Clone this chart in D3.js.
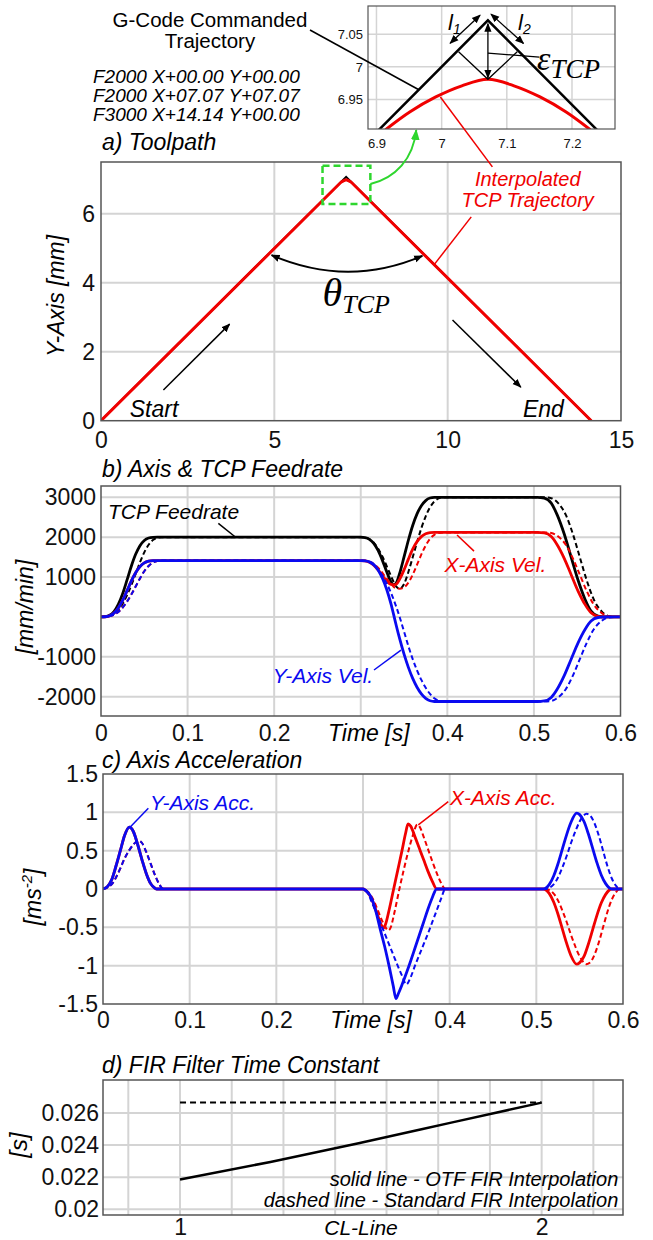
<!DOCTYPE html>
<html>
<head>
<meta charset="utf-8">
<script src="https://cdn.jsdelivr.net/npm/d3@7"></script>
<style>
  body { margin: 0; background: #fff; }
</style>
</head>
<body>
<svg id="fig" width="653" height="1240"></svg>
<script>
// ---------- data ----------
// a) toolpath [mm]
const gcodePath = [[0, 0], [7.071, 7.071], [14.142, 0]];
const gcodeLines = ["F2000 X+00.00 Y+00.00", "F2000 X+07.07 Y+07.07", "F3000 X+14.14 Y+00.00"];
// interpolated TCP near the corner
const cornerX = [6.914, 6.951, 6.991, 7.031, 7.071, 7.111, 7.151, 7.191, 7.228];
const cornerY = [6.904, 6.931, 6.954, 6.971, 6.981, 6.971, 6.954, 6.931, 6.904];

// b) feedrates [mm/min] vs time [s]; solid = OTF FIR, dashed = standard FIR
const tcpSolid = [[0,0],[0.005,7],[0.01,41],[0.015,136],[0.02,315],[0.025,585],[0.03,923],[0.035,1273],[0.04,1571],[0.045,1788],[0.05,1919],[0.055,1980],[0.06,1997],[0.065,2000],
  [0.3,2000],[0.305,1989],[0.31,1947],[0.315,1848],[0.32,1668],[0.325,1419],[0.33,1133],[0.335,876],[0.338,807],[0.341,850],[0.345,1099],[0.35,1505],[0.355,1924],[0.36,2295],[0.365,2585],[0.37,2791],[0.375,2919],[0.38,2983],[0.385,3000],
  [0.504,3000],[0.512,2980],[0.52,2854],[0.527,2554],[0.535,2080],[0.543,1499],[0.551,919],[0.559,445],[0.566,146],[0.574,20],[0.582,0],[0.6,0]];
const tcpDashed = [[0,0],[0.005,4],[0.01,28],[0.015,78],[0.02,175],[0.025,332],[0.03,543],[0.035,796],[0.04,1079],[0.045,1368],[0.05,1621],[0.055,1810],[0.06,1929],[0.065,1986],[0.07,2000],
  [0.3,2000],[0.305,1991],[0.31,1952],[0.315,1863],[0.32,1716],[0.325,1515],[0.33,1276],[0.335,1024],[0.34,791],[0.345,708],[0.35,826],[0.355,1128],[0.36,1497],[0.365,1874],[0.37,2227],[0.375,2523],[0.38,2751],[0.385,2898],[0.39,2974],[0.395,3000],
  [0.512,3000],[0.52,2980],[0.528,2854],[0.537,2554],[0.545,2080],[0.553,1499],[0.561,919],[0.569,445],[0.578,146],[0.586,20],[0.594,0],[0.6,0]];
const xVelSolid = [[0,0],[0.005,5],[0.01,29],[0.015,96],[0.02,223],[0.025,414],[0.03,653],[0.035,900],[0.04,1111],[0.045,1264],[0.05,1357],[0.055,1400],[0.06,1412],[0.065,1414],
  [0.3,1414],[0.305,1405],[0.31,1372],[0.315,1300],[0.32,1180],[0.325,1035],[0.33,900],[0.335,815],[0.338,805],[0.341,822],[0.345,950],[0.35,1180],[0.355,1450],[0.36,1700],[0.365,1890],[0.37,2015],[0.375,2085],[0.38,2115],[0.385,2121],
  [0.504,2121],[0.512,2107],[0.52,2018],[0.527,1806],[0.535,1471],[0.543,1060],[0.551,650],[0.559,315],[0.566,103],[0.574,14],[0.582,0],[0.6,0]];
const xVelDashed = [[0,0],[0.005,3],[0.01,20],[0.015,55],[0.02,124],[0.025,235],[0.03,384],[0.035,563],[0.04,763],[0.045,967],[0.05,1146],[0.055,1280],[0.06,1364],[0.065,1404],[0.07,1414],
  [0.3,1414],[0.305,1408],[0.31,1385],[0.315,1330],[0.32,1235],[0.325,1105],[0.33,960],[0.335,830],[0.34,725],[0.345,708],[0.35,740],[0.355,860],[0.36,1060],[0.365,1310],[0.37,1570],[0.375,1790],[0.38,1960],[0.385,2060],[0.39,2105],[0.395,2121],
  [0.512,2121],[0.52,2107],[0.528,2018],[0.537,1806],[0.545,1471],[0.553,1060],[0.561,650],[0.569,315],[0.578,103],[0.586,14],[0.594,0],[0.6,0]];
const yVelSolid = [[0,0],[0.005,5],[0.01,29],[0.015,96],[0.02,223],[0.025,414],[0.03,653],[0.035,900],[0.04,1111],[0.045,1264],[0.05,1357],[0.055,1400],[0.06,1412],[0.065,1414],
  [0.3,1414],[0.305,1408],[0.31,1382],[0.315,1313],[0.32,1179],[0.325,971],[0.33,688],[0.335,320],[0.338,57],[0.341,-215],[0.345,-553],[0.35,-934],[0.355,-1265],[0.36,-1542],[0.365,-1764],[0.37,-1931],[0.375,-2043],[0.38,-2103],[0.385,-2121],
  [0.504,-2121],[0.512,-2107],[0.52,-2018],[0.527,-1806],[0.535,-1471],[0.543,-1060],[0.551,-650],[0.559,-315],[0.566,-103],[0.574,-14],[0.582,0],[0.6,0]];
const yVelDashed = [[0,0],[0.005,3],[0.01,20],[0.015,55],[0.02,124],[0.025,235],[0.03,384],[0.035,563],[0.04,763],[0.045,967],[0.05,1146],[0.055,1280],[0.06,1364],[0.065,1404],[0.07,1414],
  [0.3,1414],[0.305,1408],[0.31,1376],[0.315,1305],[0.32,1192],[0.325,1037],[0.33,840],[0.335,599],[0.34,317],[0.345,-7],[0.35,-367],[0.355,-730],[0.36,-1057],[0.365,-1340],[0.37,-1580],[0.375,-1778],[0.38,-1931],[0.385,-2039],[0.39,-2101],[0.395,-2121],
  [0.512,-2121],[0.52,-2107],[0.528,-2018],[0.537,-1806],[0.545,-1471],[0.553,-1060],[0.561,-650],[0.569,-315],[0.578,-103],[0.586,-14],[0.594,0],[0.6,0]];

// c) axis acceleration [m/s^2] vs time [s]
const yAccSolid = [[0,0],[0.005,0.03],[0.01,0.12],[0.015,0.3],[0.02,0.5],[0.025,0.7],[0.0304,0.806],[0.035,0.75],[0.04,0.58],[0.045,0.38],[0.05,0.2],[0.055,0.07],[0.06,0.01],[0.062,0],
  [0.3,0],[0.305,-0.04],[0.31,-0.12],[0.315,-0.3],[0.32,-0.53],[0.325,-0.75],[0.33,-1.0],[0.335,-1.27],[0.338,-1.43],[0.341,-1.36],[0.345,-1.25],[0.35,-1.1],[0.355,-0.94],[0.36,-0.77],[0.365,-0.6],[0.37,-0.43],[0.375,-0.26],[0.38,-0.11],[0.385,0],
  [0.508,0],[0.515,0.06],[0.52,0.17],[0.525,0.33],[0.53,0.52],[0.535,0.71],[0.54,0.87],[0.5465,0.99],[0.55,0.97],[0.555,0.88],[0.56,0.72],[0.565,0.53],[0.57,0.34],[0.575,0.18],[0.58,0.07],[0.587,0],[0.6,0]];
const yAccDashed = [[0,0],[0.005,0.02],[0.01,0.06],[0.015,0.15],[0.02,0.27],[0.025,0.4],[0.03,0.5],[0.035,0.58],[0.0408,0.63],[0.045,0.6],[0.05,0.48],[0.055,0.33],[0.06,0.18],[0.065,0.06],[0.0696,0],
  [0.3,0],[0.305,-0.04],[0.31,-0.17],[0.315,-0.3],[0.32,-0.44],[0.325,-0.58],[0.33,-0.72],[0.335,-0.86],[0.34,-1.0],[0.345,-1.13],[0.35,-1.245],[0.355,-1.15],[0.36,-1.0],[0.365,-0.86],[0.37,-0.72],[0.375,-0.58],[0.38,-0.43],[0.385,-0.28],[0.39,-0.13],[0.395,0],
  [0.51,0],[0.52,0.06],[0.525,0.15],[0.53,0.28],[0.535,0.43],[0.54,0.6],[0.545,0.75],[0.55,0.88],[0.558,0.98],[0.562,0.96],[0.567,0.86],[0.572,0.7],[0.577,0.5],[0.582,0.3],[0.587,0.14],[0.592,0.04],[0.596,0],[0.6,0]];
const xAccSolid = [[0,0],[0.005,0.03],[0.01,0.12],[0.015,0.3],[0.02,0.5],[0.025,0.7],[0.0304,0.806],[0.035,0.75],[0.04,0.58],[0.045,0.38],[0.05,0.2],[0.055,0.07],[0.06,0.01],[0.062,0],
  [0.3,0],[0.305,-0.04],[0.31,-0.13],[0.315,-0.28],[0.32,-0.44],[0.3235,-0.51],[0.326,-0.46],[0.33,-0.28],[0.335,-0.02],[0.34,0.24],[0.345,0.5],[0.349,0.72],[0.352,0.85],[0.355,0.82],[0.36,0.68],[0.365,0.53],[0.37,0.38],[0.375,0.23],[0.38,0.1],[0.385,0],
  [0.508,0],[0.515,-0.06],[0.52,-0.17],[0.525,-0.33],[0.53,-0.52],[0.535,-0.71],[0.54,-0.87],[0.5465,-0.98],[0.55,-0.96],[0.555,-0.88],[0.56,-0.72],[0.565,-0.53],[0.57,-0.34],[0.575,-0.18],[0.58,-0.07],[0.587,0],[0.6,0]];
const xAccDashed = [[0,0],[0.005,0.02],[0.01,0.06],[0.015,0.15],[0.02,0.27],[0.025,0.4],[0.03,0.5],[0.035,0.58],[0.0408,0.63],[0.045,0.6],[0.05,0.48],[0.055,0.33],[0.06,0.18],[0.065,0.06],[0.0696,0],
  [0.3,0],[0.305,-0.03],[0.31,-0.1],[0.315,-0.22],[0.32,-0.36],[0.325,-0.48],[0.329,-0.54],[0.332,-0.5],[0.336,-0.32],[0.342,0],[0.347,0.25],[0.352,0.48],[0.357,0.68],[0.3627,0.84],[0.366,0.8],[0.37,0.68],[0.375,0.52],[0.38,0.36],[0.385,0.21],[0.39,0.08],[0.395,0],
  [0.51,0],[0.52,-0.06],[0.525,-0.15],[0.53,-0.28],[0.535,-0.43],[0.54,-0.6],[0.545,-0.75],[0.55,-0.88],[0.558,-0.98],[0.562,-0.96],[0.567,-0.86],[0.572,-0.7],[0.577,-0.5],[0.582,-0.3],[0.587,-0.14],[0.592,-0.04],[0.596,0],[0.6,0]];

// d) FIR filter time constant [s] vs CL-line
const firOtf = [[1, 0.02185], [1.25, 0.02295], [1.5, 0.02415], [1.75, 0.0254], [2, 0.02665]];
const firStd = [[1, 0.02665], [2, 0.02665]];

// ticks
const aXTicks = [0, 5, 10, 15], aYTicks = [0, 2, 4, 6];
const insetXTicks = [6.9, 7, 7.1, 7.2], insetYTicks = [6.95, 7, 7.05];
const timeTicks = [0, 0.1, 0.2, 0.4, 0.5, 0.6], timeGrid = [0.1, 0.2, 0.3, 0.4, 0.5];
const bYTicks = [-2000, -1000, 1000, 2000, 3000], bYGrid = [-2000, -1000, 0, 1000, 2000, 3000];
const cYTicks = [-1.5, -1, -0.5, 0, 0.5, 1, 1.5], cYGrid = [-1, -0.5, 0, 0.5, 1];
const dXTicks = [1, 2], dXGrid = [0.857, 1, 1.143, 1.286, 1.429, 1.571, 1.714, 1.857, 2, 2.143];
const dYTicks = [0.02, 0.022, 0.024, 0.026];

// ---------- drawing ----------
const FONT = '"Liberation Sans", Arial, Helvetica, sans-serif';
const SERIF = '"Liberation Serif", "DejaVu Serif", "Times New Roman", serif';
const RED = "#f00000", BLUE = "#0a0af0", GREEN = "#2ed62e";
const GRID = "#d4d4d4", FRAME = "#555";

const svg = d3.select("#fig").attr("font-family", FONT);
const defs = svg.append("defs");

function marker(id, color, size) {
    defs.append("marker").attr("id", id)
        .attr("viewBox", "0 0 10 10").attr("refX", 9).attr("refY", 5)
        .attr("markerWidth", size).attr("markerHeight", size)
        .attr("markerUnits", "userSpaceOnUse")
        .attr("orient", "auto-start-reverse")
        .append("path").attr("d", "M0,1 L10,5 L0,9 Z").attr("fill", color);
}
marker("arrK", "#000", 9);
marker("arrG", GREEN, 11);

// frame + grid + tick labels for one panel
function panel(name, x, y, o) {
    const g = svg.append("g");
    const [l, r] = x.range(), [b, t] = y.range();
    g.append("rect").attr("x", l).attr("y", t).attr("width", r - l).attr("height", b - t).attr("fill", "#fff");
    g.selectAll("line.gx").data(o.gridX).join("line").attr("class", "gx")
        .attr("x1", d => x(d)).attr("x2", d => x(d)).attr("y1", b).attr("y2", t)
        .attr("stroke", GRID).attr("stroke-width", o.gw || 2);
    g.selectAll("line.gy").data(o.gridY).join("line").attr("class", "gy")
        .attr("y1", d => y(d)).attr("y2", d => y(d)).attr("x1", l).attr("x2", r)
        .attr("stroke", GRID).attr("stroke-width", o.gw || 2);

    const fs = o.fs || 23;
    const xa = g.append("g").attr("transform", `translate(0,${b})`)
        .call(d3.axisBottom(x).tickValues(o.xTicks).tickSize(0)
            .tickPadding(o.xBase - 0.71 * fs).tickFormat(d => String(d)));
    xa.select(".domain").remove();
    xa.attr("font-size", fs).attr("font-family", FONT).attr("color", "#111");
    const ya = g.append("g").attr("transform", `translate(${l},0)`)
        .call(d3.axisLeft(y).tickValues(o.yTicks).tickSize(0)
            .tickPadding(o.yPad || 5).tickFormat(d => String(d)));
    ya.select(".domain").remove();
    ya.attr("font-size", fs).attr("font-family", FONT).attr("color", "#111");

    svg.append("clipPath").attr("id", "clip-" + name)
        .append("rect").attr("x", l).attr("y", t).attr("width", r - l).attr("height", b - t);
    const plot = svg.append("g").attr("clip-path", `url(#clip-${name})`);
    const frame = svg.append("rect").attr("x", l).attr("y", t).attr("width", r - l).attr("height", b - t)
        .attr("fill", "none").attr("stroke", FRAME).attr("stroke-width", o.fw || 1.5);
    return { g, plot, frame };
}

function label(txt, px, py, opt = {}) {
    return svg.append("text").attr("x", px).attr("y", py)
        .attr("font-size", opt.fs || 23)
        .attr("font-style", opt.upright ? "normal" : "italic")
        .attr("text-anchor", opt.anchor || "start")
        .attr("fill", opt.color || "#000")
        .text(txt);
}
function ylabel(px, cy, fs) {
    return svg.append("text").attr("transform", `translate(${px},${cy}) rotate(-90)`)
        .attr("font-size", fs).attr("font-style", "italic").attr("text-anchor", "middle");
}
function seg(p0, p1, color, w, arrow) {
    const ln = svg.append("line").attr("x1", p0[0]).attr("y1", p0[1]).attr("x2", p1[0]).attr("y2", p1[1])
        .attr("stroke", color).attr("stroke-width", w);
    if (arrow) ln.attr("marker-end", `url(#${arrow})`);
    return ln;
}

// ===== a) Toolpath =====
const ax = d3.scaleLinear().domain([0, 15]).range([101, 621]);
const ay = d3.scaleLinear().domain([0, 7.5]).range([420.7, 162]);
const pa = panel("a", ax, ay, { gridX: [5, 10], gridY: [2, 4, 6], xTicks: aXTicks, yTicks: aYTicks, xBase: 27, yPad: 6 });
const lineA = d3.line().x(d => ax(d[0])).y(d => ay(d[1]));
const tcpPath = [[0, 0]].concat(cornerX.map((v, i) => [v, cornerY[i]]), [[14.142, 0]]);
pa.plot.append("path").attr("d", lineA(gcodePath)).attr("fill", "none").attr("stroke", "#000").attr("stroke-width", 2);
pa.plot.append("path").attr("d", lineA(tcpPath)).attr("fill", "none").attr("stroke", RED).attr("stroke-width", 3);

// zoom box
svg.append("rect").attr("x", ax(6.39)).attr("y", ay(7.39))
    .attr("width", ax(7.77) - ax(6.39)).attr("height", ay(6.28) - ay(7.39))
    .attr("fill", "none").attr("stroke", GREEN).attr("stroke-width", 2.5).attr("stroke-dasharray", "7,4");

seg([ax(1.8), ay(0.89)], [ax(3.71), ay(2.8)], "#000", 1.5, "arrK");
seg([ax(10.14), ay(2.92)], [ax(12.11), ay(0.97)], "#000", 1.5, "arrK");
svg.append("path")
    .attr("d", `M${ax(4.92)},${ay(4.8)} Q${ax(7.11)},${ay(3.85)} ${ax(9.27)},${ay(4.78)}`)
    .attr("fill", "none").attr("stroke", "#000").attr("stroke-width", 2)
    .attr("marker-start", "url(#arrK)").attr("marker-end", "url(#arrK)");
const th = svg.append("text").attr("x", ax(6.39)).attr("y", ay(3.33)).attr("font-family", SERIF).attr("font-style", "italic");
th.append("tspan").attr("font-size", 40).text("θ");
th.append("tspan").attr("font-size", 26).attr("dy", 7).text("TCP");
label("Start", ax(0.83), ay(0.12));
label("End", ax(12.17), ay(0.12));
label("Interpolated", ax(12.31), 186, { color: RED, anchor: "middle", fs: 20 });
label("TCP Trajectory", ax(12.31), 207, { color: RED, anchor: "middle", fs: 20 });
seg([ax(10.68), ay(5.91)], [ax(9.6), ay(4.51)], RED, 1.5);

label("a) Toolpath", 102, 150);
ylabel(64, 296, 23).text("Y-Axis [mm]");

// inset
const ix = d3.scaleLinear().domain([6.887, 7.266]).range([368, 615]);
const iy = d3.scaleLinear().domain([6.905, 7.093]).range([129, 6]);
const pi = panel("inset", ix, iy, { gridX: insetXTicks, gridY: insetYTicks, xTicks: insetXTicks, yTicks: insetYTicks, xBase: 19, yPad: 5, fs: 13, gw: 1.5, fw: 1.2 });
const lineI = d3.line().x(d => ix(d[0])).y(d => iy(d[1]));
pi.plot.append("path").attr("d", lineI(gcodePath)).attr("fill", "none").attr("stroke", "#000").attr("stroke-width", 2.5);
pi.plot.append("path").attr("d", lineI.curve(d3.curveCatmullRom)(cornerX.map((v, i) => [v, cornerY[i]])))
    .attr("fill", "none").attr("stroke", RED).attr("stroke-width", 3);
// epsilon construction
svg.append("path").attr("d", `M${ix(7.026)},${iy(7.023)} L${ix(7.071)},${iy(6.981)} L${ix(7.116)},${iy(7.023)}`)
    .attr("fill", "none").attr("stroke", "#000").attr("stroke-width", 1.3);
seg([ix(7.071), iy(7.066)], [ix(7.071), iy(6.983)], "#000", 1.3, "arrK").attr("marker-start", "url(#arrK)");
seg([ix(7.013), iy(7.036)], [ix(7.059), iy(7.079)], "#000", 1.3, "arrK").attr("marker-start", "url(#arrK)");
seg([ix(7.0757), iy(7.0806)], [ix(7.1256), iy(7.0358)], "#000", 1.3, "arrK").attr("marker-start", "url(#arrK)");
seg([ix(7.071), iy(7.021)], [ix(7.15), iy(7.015)], "#000", 1.3);
const eps = svg.append("text").attr("x", 537).attr("y", 70).attr("font-family", SERIF).attr("font-style", "italic");
eps.append("tspan").attr("font-size", 34).text("ε");
eps.append("tspan").attr("font-size", 27).attr("dy", 8).text("TCP");
const l1 = label("l", 448, 30, { fs: 22 });
l1.append("tspan").attr("font-size", 14).attr("dy", 4).text("1");
const l2 = label("l", 518, 30, { fs: 22 });
l2.append("tspan").attr("font-size", 14).attr("dy", 4).text("2");

// G-code text + leaders
label("G-Code Commanded", 210, 27, { anchor: "middle", fs: 20.5, upright: true });
label("Trajectory", 210, 48, { anchor: "middle", fs: 20.5, upright: true });
seg([310, 30], [ix(6.965), iy(6.965)], "#000", 1.5);
gcodeLines.forEach((s, i) => label(s, 93, 83 + i * 19, { fs: 19 }));
seg([ix(6.998), iy(6.954)], [ax(11.29), ay(7.36)], RED, 1.5);
svg.append("path")
    .attr("d", `M${ax(7.77)},${ay(6.86)} C${ax(7.77) + 25},${ay(6.86) - 6} ${ix(6.961) - 3},${iy(6.905) + 30} ${ix(6.961)},${iy(6.905) + 1}`)
    .attr("fill", "none").attr("stroke", GREEN).attr("stroke-width", 2).attr("marker-end", "url(#arrG)");

// ===== b) Axis & TCP Feedrate =====
const bx = d3.scaleLinear().domain([0, 0.6]).range([101, 620.5]);
const by = d3.scaleLinear().domain([-2485, 3285]).range([716, 486]);
const pb = panel("b", bx, by, { gridX: timeGrid, gridY: bYGrid, xTicks: timeTicks, yTicks: bYTicks, xBase: 25, yPad: 5 });
const lineB = d3.line().x(d => bx(d[0])).y(d => by(d[1])).curve(d3.curveMonotoneX);
[[tcpDashed, "#000", true], [tcpSolid, "#000", false],
 [xVelDashed, RED, true], [xVelSolid, RED, false],
 [yVelDashed, BLUE, true], [yVelSolid, BLUE, false]].forEach(([d, c, dash]) => {
    pb.plot.append("path").attr("d", lineB(d)).attr("fill", "none").attr("stroke", c)
        .attr("stroke-width", dash ? 2 : 2.8).attr("stroke-dasharray", dash ? "5,3" : null);
});
label("TCP Feedrate", bx(0.0081), by(2447), { fs: 21 });
seg([bx(0.1355), by(2347)], [bx(0.1548), by(2011)], "#000", 1.5);
label("X-Axis Vel.", bx(0.3966), by(1133), { fs: 21, color: RED });
seg([bx(0.4112), by(2054)], [bx(0.4308), by(1652)], RED, 1.5);
label("Y-Axis Vel.", bx(0.1984), by(-1665), { fs: 21, color: BLUE });
seg([bx(0.3153), by(-1331)], [bx(0.3465), by(-830)], BLUE, 1.5);
label("b) Axis & TCP Feedrate", 102, 477);
label("Time [s]", bx(0.3) + 8, 741, { anchor: "middle" });
ylabel(33, 607, 23).text("[mm/min]");

// ===== c) Axis Acceleration =====
const cx = d3.scaleLinear().domain([0, 0.6]).range([103, 623]);
const cy = d3.scaleLinear().domain([-1.5, 1.5]).range([1004, 774]);
const pc = panel("c", cx, cy, { gridX: timeGrid, gridY: cYGrid, xTicks: timeTicks, yTicks: cYTicks, xBase: 24, yPad: 5 });
const lineC = d3.line().x(d => cx(d[0])).y(d => cy(d[1])).curve(d3.curveMonotoneX);
[[xAccDashed, RED, true], [xAccSolid, RED, false],
 [yAccDashed, BLUE, true], [yAccSolid, BLUE, false]].forEach(([d, c, dash]) => {
    pc.plot.append("path").attr("d", lineC(d)).attr("fill", "none").attr("stroke", c)
        .attr("stroke-width", dash ? 2 : 2.8).attr("stroke-dasharray", dash ? "5,3" : null);
});
label("Y-Axis Acc.", cx(0.0542), cy(1.03), { fs: 21, color: BLUE });
seg([cx(0.0523), cy(1.053)], [cx(0.0312), cy(0.806)], BLUE, 1.5);
label("X-Axis Acc.", cx(0.4004), cy(1.096), { fs: 21, color: RED });
seg([cx(0.3984), cy(1.139)], [cx(0.3638), cy(0.836)], RED, 1.5);
label("c) Axis Acceleration", 102, 768);
label("Time [s]", cx(0.3) + 8, 1028, { anchor: "middle" });
const cyl = ylabel(41, 897, 23);
cyl.append("tspan").text("[ms");
cyl.append("tspan").attr("font-size", 15).attr("dy", -9).text("-2");
cyl.append("tspan").attr("dy", 9).text("]");

// ===== d) FIR Filter Time Constant =====
const dx = d3.scaleLinear().domain([0.787, 2.225]).range([103, 623]);
const dy = d3.scaleLinear().domain([0.01964, 0.02806]).range([1215, 1080]);
const pd = panel("d", dx, dy, { gridX: dXGrid, gridY: dYTicks, xTicks: dXTicks, yTicks: dYTicks, xBase: 20, yPad: 4 });
const lineD = d3.line().x(d => dx(d[0])).y(d => dy(d[1]));
pd.plot.append("path").attr("d", lineD(firStd)).attr("fill", "none").attr("stroke", "#000")
    .attr("stroke-width", 2).attr("stroke-dasharray", "6,4");
pd.plot.append("path").attr("d", lineD.curve(d3.curveMonotoneX)(firOtf)).attr("fill", "none").attr("stroke", "#000")
    .attr("stroke-width", 2.5);
label("solid line - OTF FIR Interpolation", dx(2.212), 1186, { fs: 20, anchor: "end" });
label("dashed line - Standard FIR Interpolation", dx(2.212), 1207, { fs: 20, anchor: "end" });
label("d) FIR Filter Time Constant", 102, 1073);
label("CL-Line", 361, 1235, { anchor: "middle", fs: 21 });
ylabel(27, 1145, 24).text("[s]");
</script>
</body>
</html>
